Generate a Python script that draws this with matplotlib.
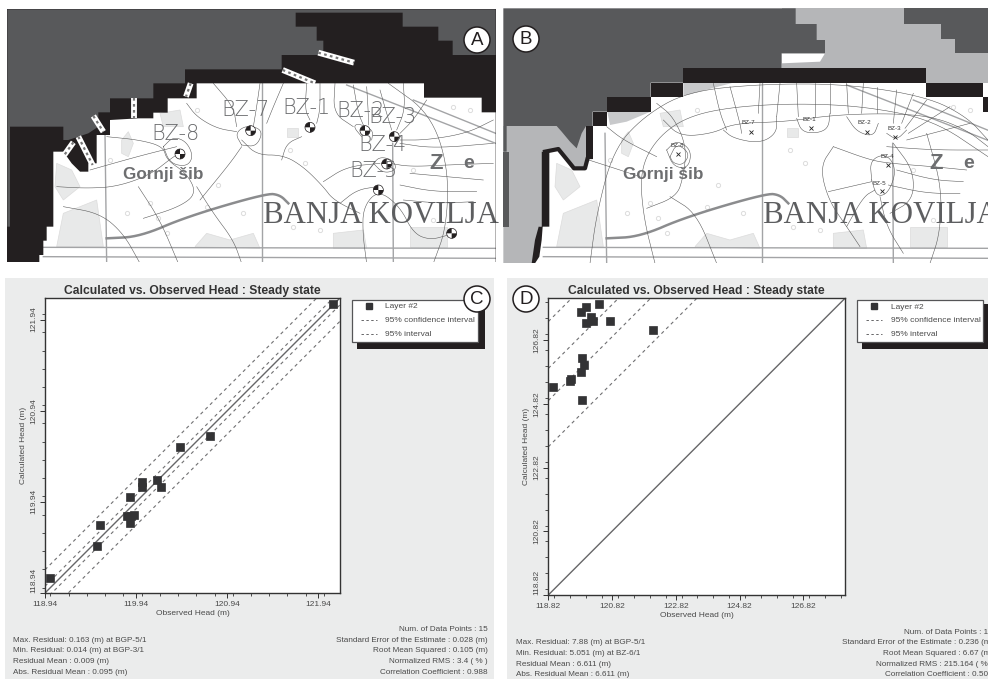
import numpy as np
import matplotlib
matplotlib.use('Agg')
import matplotlib.pyplot as plt
from matplotlib.patches import Rectangle, Polygon, Circle, Wedge
from matplotlib.ticker import MultipleLocator

plt.rcParams['font.family'] = ['Liberation Sans', 'DejaVu Sans']

W, H = 988, 679
DARK = '#58595b'
BLACK = '#231f20'
PANEL = '#ebecec'
TXT = '#4a4a4a'
MARK = '#333335'

# ---- panel C data
obs_c = [118.995, 119.507, 119.547, 119.843, 119.869, 119.92, 119.876, 120.004,
         120.004, 120.165, 120.212, 120.421, 120.746, 122.095, 119.88]
calc_c = [119.10, 119.456, 119.69, 119.788, 119.708, 119.796, 119.989, 120.106,
          120.158, 120.176, 120.103, 120.545, 120.662, 122.114, 119.79]
offsets_c = [0.255, 0.075, -0.075, -0.255]
start_c, end_c = 118.94, 122.176
stats_left_c = ['Max. Residual: 0.163 (m) at BGP-5/1', 'Min. Residual: 0.014 (m) at BGP-3/1',
                'Residual Mean : 0.009 (m)', 'Abs. Residual Mean : 0.095 (m)']
stats_right_c = ['Num. of Data Points : 15', 'Standard Error of the Estimate : 0.028 (m)',
                 'Root Mean Squared : 0.105 (m)', 'Normalized RMS : 3.4 ( % )',
                 'Correlation Coefficient : 0.988']

# ---- panel D data
obs_d = [118.977, 119.51, 119.542, 119.845, 119.929, 119.876, 119.876, 119.845,
         120.002, 120.4, 120.169, 120.222, 120.002, 120.745, 122.094]
calc_d = [125.337, 125.536, 125.598, 125.818, 126.048, 126.257, 124.95, 127.701,
          127.858, 127.962, 127.544, 127.418, 127.366, 127.429, 127.136]
offsets_d = [8.58, 7.11, 6.10, 4.65]
start_d, end_d = 118.82, 128.13
stats_left_d = ['Max. Residual: 7.88 (m) at BGP-5/1', 'Min. Residual: 5.051 (m) at BZ-6/1',
                'Residual Mean : 6.611 (m)', 'Abs. Residual Mean : 6.611 (m)']
stats_right_d = ['Num. of Data Points : 15', 'Standard Error of the Estimate : 0.236 (m)',
                 'Root Mean Squared : 6.67 (m)', 'Normalized RMS : 215.164 ( % )',
                 'Correlation Coefficient : 0.505']

# ---- map shapes, in 3x pixels of each map's own origin
a_black = [(0, 800), (0, 0), (1500, 0), (1500, 800), (1487, 800), (1487, 337), (1445, 337), (1445, 293),
           (1272, 293), (1272, 250), (590, 250), (590, 295), (503, 295), (503, 338), (460, 338), (460, 355),
           (415, 355), (330, 360), (330, 405), (290, 405), (290, 490), (265, 490), (265, 515), (240, 515),
           (215, 490), (190, 455), (160, 455), (160, 680), (140, 680), (140, 722), (130, 722), (130, 765),
           (118, 765), (118, 800)]
a_dark = [(22, 28), (22, 680), (30, 680), (30, 380), (190, 380), (190, 420), (205, 420), (265, 400), (295, 380),
          (295, 337), (330, 337), (330, 295), (460, 295), (460, 250), (555, 250), (555, 208), (845, 208),
          (845, 165), (970, 165), (970, 122), (950, 122), (950, 80), (887, 80), (887, 38), (1208, 38), (1208, 80),
          (1315, 80), (1315, 122), (1358, 122), (1358, 165), (1487, 165), (1487, 28)]
a_tags = [((955, 158), (1062, 188)), ((848, 210), (945, 250)), ((572, 250), (558, 290)), ((402, 295), (402, 355)),
          ((280, 348), (310, 395)), ((235, 410), (278, 495)), ((220, 427), (193, 465))]

b_light = [(10, 378), (278, 378), (278, 478), (258, 478), (255, 505), (222, 505), (175, 447), (135, 455), (125, 455),
           (125, 680), (118, 680), (108, 770), (95, 790), (10, 790)]
b_light_top = [(845, 25), (1464, 25), (1464, 248), (1278, 248), (1278, 205), (845, 205)]
b_light_strip = [(550, 248), (700, 248), (560, 285), (550, 285)]
b_light_step = [(322, 335), (452, 335), (380, 365), (330, 375)]
b_white_spot = [(845, 160), (975, 160), (960, 185), (845, 190)]
b_dark = [(10, 25), (887, 25), (887, 72), (950, 72), (950, 120), (975, 120), (975, 160), (845, 160), (845, 205),
          (550, 205), (550, 248), (452, 248), (452, 292), (322, 292), (322, 335), (278, 335), (278, 378), (258, 378),
          (245, 400), (230, 445), (210, 425), (185, 395), (170, 378), (20, 378), (20, 455), (10, 455)]
b_dark_right = [(1213, 25), (1464, 25), (1464, 160), (1365, 160), (1365, 118), (1322, 118), (1322, 72), (1213, 72)]
b_dark_left = [(10, 455), (28, 455), (28, 680), (10, 680)]
b_band = [(550, 205), (1278, 205), (1278, 248), (1450, 248), (1450, 290), (1464, 290), (1464, 335), (1450, 335),
          (1450, 290), (1278, 290), (1278, 248), (550, 248), (550, 290), (452, 290), (452, 335), (322, 335),
          (322, 378), (278, 378), (278, 478), (258, 478), (258, 378), (278, 378), (278, 335), (322, 335),
          (322, 292), (452, 292), (452, 248), (550, 248)]
b_band_left = [(125, 455), (148, 455), (148, 680), (128, 680), (125, 720), (118, 770), (105, 790), (95, 790),
               (105, 720), (116, 680), (125, 680)]
b_wiggle = [(135, 455), (175, 447), (210, 490), (222, 505), (255, 505), (262, 478)]

roads = [[(787, 250), (787, 790)], [(315, 400), (320, 790)], [(1178, 430), (1180, 790)],
         [(130, 742), (1487, 745)], [(130, 770), (1487, 775)], [(1040, 255), (1487, 430)],
         [(1240, 300), (1487, 400)]]
main_road = [(320, 715), (420, 710), (560, 650), (800, 580), (840, 585), (865, 610)]
blobs = [[(365, 420), (385, 395), (400, 430), (385, 470), (365, 460)], [(190, 640), (290, 600), (310, 740), (170, 740)],
         [(585, 740), (620, 700), (690, 720), (760, 700), (780, 745)], [(480, 340), (540, 330), (550, 380), (490, 380)],
         [(860, 385), (895, 385), (895, 410), (860, 410)], [(1000, 700), (1090, 690), (1100, 745), (1000, 745)],
         [(1230, 680), (1340, 680), (1340, 740), (1230, 740)], [(170, 490), (215, 510), (240, 560), (190, 600), (165, 560)]]
seeds = [(1240, 510), (655, 555), (590, 330), (500, 700), (960, 690), (1300, 660), (450, 610), (380, 640), (330, 480),
         (620, 620), (870, 450), (915, 490), (475, 655), (730, 640), (880, 680), (1410, 330), (1360, 320)]

a_contours = [
    [(170, 560), (260, 565), (350, 560), (450, 525), (520, 470), (540, 460)],
    [(270, 510), (340, 490), (430, 465), (530, 440)],
    [(320, 410), (420, 420), (490, 440), (500, 480), (560, 520), (590, 580), (540, 620), (430, 655)],
    [(490, 440), (520, 410), (560, 425), (580, 470), (560, 500), (510, 490), (490, 440)],
    [(415, 560), (480, 660), (535, 790)], [(190, 620), (300, 640), (370, 700), (420, 790)],
    [(725, 420), (770, 465), (850, 465), (910, 500), (970, 560), (1000, 600), (1080, 640)],
    [(600, 600), (690, 490), (725, 440)],
    [(725, 435), (705, 400), (740, 375), (790, 390), (770, 440), (725, 435)],
    [(590, 560), (640, 640), (700, 720), (725, 790)],
    [(560, 310), (590, 350), (650, 385), (710, 395)],
    [(845, 480), (860, 430), (905, 410)], [(640, 250), (700, 320), (710, 380)],
    [(780, 250), (770, 320), (760, 380)], [(850, 250), (820, 320), (800, 370)],
    [(920, 250), (915, 330), (930, 360)], [(960, 250), (960, 330), (950, 370)],
    [(1005, 250), (1000, 340), (1060, 380)], [(1060, 255), (1075, 340), (1090, 375)],
    [(1100, 260), (1105, 340), (1105, 375)], [(1140, 270), (1160, 340), (1175, 390)],
    [(1210, 250), (1215, 330), (1190, 390)], [(1280, 300), (1240, 360), (1200, 400)],
    [(1100, 790), (1088, 700), (1090, 620), (1135, 570), (1200, 620), (1240, 700), (1290, 720), (1345, 705)],
    [(970, 545), (1040, 500), (1140, 490)], [(1020, 610), (1070, 570), (1130, 560)],
    [(1170, 490), (1230, 500), (1340, 495), (1480, 490)], [(1200, 420), (1280, 420), (1400, 400), (1480, 360)],
    [(1200, 430), (1300, 445), (1480, 430)], [(1230, 520), (1340, 530), (1450, 540)],
    [(1200, 555), (1300, 575), (1430, 575)], [(1210, 600), (1320, 610), (1420, 605)],
    [(1165, 250), (1290, 340), (1345, 500), (1340, 680), (1300, 790)],
    [(1120, 490), (1140, 470), (1180, 480), (1190, 510), (1150, 520), (1120, 490)],
    [(1085, 410), (1060, 380), (1075, 370), (1120, 390), (1115, 420)],
]
b_contours = [
    [(270, 790), (290, 640), (340, 450), (430, 350), (560, 275), (780, 252), (1040, 252), (1280, 290), (1400, 350), (1464, 420)],
    [(465, 790), (430, 650), (420, 510), (470, 415), (560, 350), (700, 320), (900, 310), (1100, 320), (1300, 360), (1464, 470)],
    [(260, 478), (360, 510), (420, 530)], [(440, 625), (530, 590), (550, 530), (560, 440), (520, 350), (470, 310)],
    [(490, 360), (540, 410), (640, 400), (700, 370), (860, 365), (1000, 345), (1170, 340), (1300, 350), (1400, 390), (1464, 440)],
    [(510, 470), (530, 430), (570, 460), (550, 495), (520, 490), (510, 470)],
    [(500, 450), (530, 420), (575, 450), (565, 505), (520, 500), (500, 450)],
    [(670, 390), (700, 415), (780, 430), (830, 400), (830, 350)], [(890, 355), (905, 395), (950, 400), (985, 385), (990, 340)],
    [(1040, 350), (1070, 395), (1120, 410), (1135, 370)], [(1160, 400), (1190, 420), (1220, 390)],
    [(725, 400), (720, 370), (690, 260)], [(640, 250), (660, 340), (680, 390)], [(780, 250), (775, 340)],
    [(840, 250), (830, 350)], [(890, 250), (895, 350)], [(945, 250), (945, 350)], [(990, 250), (990, 340)],
    [(1040, 250), (1045, 340)], [(1090, 250), (1085, 340)], [(1130, 260), (1130, 340)], [(1190, 270), (1180, 370)],
    [(1240, 280), (1205, 370)], [(1280, 300), (1215, 385)], [(1350, 320), (1225, 400)], [(1410, 370), (1220, 420)],
    [(1000, 440), (1110, 480), (1170, 490), (1300, 500), (1400, 510)], [(1160, 440), (1300, 450), (1464, 450)],
    [(1190, 510), (1300, 540), (1390, 545)], [(1165, 555), (1280, 580), (1380, 580)], [(985, 575), (1050, 560), (1115, 545)],
    [(1040, 680), (1090, 590), (1125, 570)], [(1000, 440), (960, 500), (985, 600), (1040, 680), (1080, 740)],
    [(1115, 540), (1110, 480), (1160, 460), (1190, 510), (1165, 580), (1130, 590), (1115, 540)],
    [(1180, 430), (1240, 510), (1240, 600), (1170, 640)], [(1280, 400), (1325, 560), (1320, 700), (1290, 790)],
    [(1140, 590), (1160, 680), (1210, 760)], [(320, 380), (370, 420), (470, 470)], [(510, 590), (590, 640), (650, 790)],
]
a_wells = [(540, 462), (752, 392), (930, 382), (1095, 392), (1183, 410), (1160, 492), (1135, 570), (1355, 700)]
a_labels = [('BZ-8', 455, 402), ('BZ-7', 665, 330), ('BZ-1', 848, 325), ('BZ-2', 1010, 332), ('BZ-3', 1105, 352),
            ('BZ-4', 1075, 435), ('BZ-5', 1048, 512)]
b_wells = [(533, 462), (752, 396), (933, 384), (1100, 396), (1186, 410), (1165, 494), (1145, 572)]
b_labels = [('BZ-8', 531, 437), ('BZ-7', 746, 367), ('BZ-1', 928, 358), ('BZ-2', 1094, 367), ('BZ-3', 1184, 385),
            ('BZ-4', 1162, 470), ('BZ-5', 1137, 550)]


def chaikin(pts, n=3):
    p = np.array(pts, dtype=float)
    for _ in range(n):
        q = p[:-1] * 0.75 + p[1:] * 0.25
        r = p[:-1] * 0.25 + p[1:] * 0.75
        mid = np.empty((len(q) * 2, 2))
        mid[0::2], mid[1::2] = q, r
        p = np.vstack([p[0], mid, p[-1]])
    return p


def z(pts, ox):
    return [(ox + x / 3, y / 3) for x, y in pts]


def base_map(ax, ox, rect, contours):
    # rect = x0, y0, x1, y1 of the map, 3x pixels
    x0, y0, x1, y1 = rect
    box = Rectangle((ox + x0 / 3, y0 / 3), (x1 - x0) / 3, (y1 - y0) / 3, fc='white', ec='none', zorder=1)
    ax.add_patch(box)
    clip = Rectangle((ox + x0 / 3, y0 / 3), (x1 - x0) / 3, (y1 - y0) / 3, transform=ax.transData)
    items = []
    for b in blobs:
        items.append(ax.add_patch(Polygon(z(b, ox), fc='#e8e9e9', ec='#dcdcdc', lw=0.5, zorder=2)))
    sx, sy = zip(*z(seeds, ox))
    items += ax.plot(sx, sy, 'o', ms=3, mfc='none', mec='#dcdcdc', mew=0.7, zorder=2)
    for r in roads:
        px_, py_ = zip(*z(r, ox))
        items += ax.plot(px_, py_, color='#a3a4a6', lw=1.0, zorder=2)
    m = chaikin(z(main_road, ox))
    items += ax.plot(m[:, 0], m[:, 1], color='#8b8c8e', lw=1.8, zorder=2)
    for c in contours:
        s = chaikin(z(c, ox))
        items += ax.plot(s[:, 0], s[:, 1], color='#555555', lw=0.38, zorder=3)
    items.append(ax.text(ox + 788 / 3, 670 / 3, 'BANJA KOVILJA', family='Liberation Serif', fontsize=22.2,
                         color='#5d5e60', va='baseline', zorder=3))
    items.append(ax.text(ox + 368 / 3, 537 / 3, 'Gornji šib', weight='bold', fontsize=12.3,
                         color='#6d6e70', zorder=3))
    items.append(ax.text(ox + 1288 / 3, 508 / 3, 'Z', weight='bold', fontsize=16, color='#6d6e70', zorder=3))
    items.append(ax.text(ox + 1390 / 3, 505 / 3, 'e', weight='bold', fontsize=14, color='#6d6e70', zorder=3))
    for it in items:
        it.set_clip_path(clip)
    return clip


def scatter_panel(rect, obs, calc, offsets, start, end, minor, tick_labels, title):
    l, t, r, b = rect
    ax = fig.add_axes([l / W, 1 - b / H, (r - l) / W, (b - t) / H], zorder=2)
    ax.set_xlim(start, end)
    ax.set_ylim(start, end)
    ax.plot([start, end], [start, end], color='#666668', lw=1.0, zorder=2)
    for off in offsets:
        ax.plot([start, end], [start + off, end + off], color='#707072', lw=0.8, ls=(0, (3, 3)), zorder=2)
    ax.plot(obs, calc, 's', color=MARK, ms=5.9, mec=MARK, mew=0.5, zorder=4, clip_on=False)
    ticks = [float(v) for v in tick_labels]
    ax.set_xticks(ticks)
    ax.set_yticks(ticks)
    ax.set_xticklabels(tick_labels, fontsize=6.0, color=TXT)
    ax.set_yticklabels(tick_labels, fontsize=6.0, color=TXT, rotation=90, va='center')
    ax.get_yticklabels()[0].set_va('bottom')
    ax.xaxis.set_minor_locator(MultipleLocator(minor))
    ax.yaxis.set_minor_locator(MultipleLocator(minor))
    ax.tick_params(which='major', length=3.5, width=0.7, color='#333333', pad=2)
    ax.tick_params(which='minor', length=2, width=0.6, color='#333333')
    ax.set_xlabel('Observed Head (m)', fontsize=6.0, color=TXT, labelpad=2)
    ax.set_ylabel('Calculated Head (m)', fontsize=6.0, color=TXT, labelpad=1)
    ax.yaxis.set_label_coords(-0.061, 0.5)
    for s in ax.spines.values():
        s.set_linewidth(1.0)
        s.set_color('#333333')
    ax.set_title(title, fontsize=8.75, weight='bold', color='#333333', pad=3)
    return ax


def legend_box(ax, x0, y0, x1, y1, shadow):
    # x0.. in figure pixels; dark offset shadow drawn on the back layer
    bk.add_patch(Rectangle((x0 + 5, y0 + 4), x1 - x0 + shadow, y1 - y0 + 3, fc=BLACK, ec='none', zorder=4))
    bk.add_patch(Rectangle((x0, y0), x1 - x0, y1 - y0, fc='white', ec='#555557', lw=0.9, zorder=5))
    top.plot([x0 + 17], [y0 + 6], 's', color=MARK, ms=4.6)
    for yy in (y0 + 20, y0 + 34):
        top.plot([x0 + 9, x0 + 25], [yy, yy], color='#666668', lw=0.7, ls=(0, (2.5, 2.5)))
    for yy, s in zip((y0 + 7.5, y0 + 21, y0 + 35), ('Layer #2', '95% confidence interval', '95% interval')):
        top.text(x0 + 33.5, yy, s, fontsize=6.0, color=TXT, va='center')


def stats(left_x, right_x, ys_left, ys_right, left, right):
    for y, s in zip(ys_left, left):
        top.text(left_x, y, s, fontsize=5.85, color=TXT, va='center')
    for y, s in zip(ys_right, right):
        top.text(right_x, y, s, fontsize=5.85, color=TXT, va='center', ha='right')


def badge(x, y, s):
    top.add_patch(Circle((x, y), 13, fc='white', ec=BLACK, lw=1.1, zorder=8))
    top.text(x, y + 0.5, s, fontsize=13.5, color=BLACK, ha='center', va='center', zorder=9)


fig = plt.figure(figsize=(W / 100, H / 100), dpi=100, facecolor='white')

# back layer in image pixels, y down
bk = fig.add_axes([0, 0, 1, 1], zorder=0)
bk.set_xlim(0, W)
bk.set_ylim(H, 0)
bk.axis('off')
top = fig.add_axes([0, 0, 1, 1], zorder=5)
top.set_xlim(0, W)
top.set_ylim(H, 0)
top.axis('off')
top.patch.set_alpha(0)

bk.add_patch(Rectangle((5, 278), 489, 401, fc=PANEL, ec='none'))
bk.add_patch(Rectangle((507, 278), 481, 401, fc=PANEL, ec='none'))

# map A
rect_a = (22, 28, 1487, 787)
clip_a = base_map(bk, 0, rect_a, a_contours)
bk.add_patch(Polygon(z(a_black, 0), fc=BLACK, ec='none', zorder=5)).set_clip_path(clip_a)
bk.add_patch(Polygon(z(a_dark, 0), fc=DARK, ec='none', zorder=6)).set_clip_path(clip_a)
for p, q in a_tags:
    (x1, y1), (x2, y2) = z([p, q], 0)
    bk.plot([x1, x2], [y1, y2], color='white', lw=4.2, solid_capstyle='butt', zorder=7)
    bk.plot([x1, x2], [y1, y2], color='#777777', lw=1.6, ls=(0, (1.2, 1.5)), zorder=8)
for x, y in z(a_wells, 0):
    bk.add_patch(Circle((x, y), 5, fc='white', ec=BLACK, lw=0.5, zorder=8))
    bk.add_patch(Wedge((x, y), 5, 0, 90, fc=BLACK, ec='none', zorder=9))
    bk.add_patch(Wedge((x, y), 5, 180, 270, fc=BLACK, ec='none', zorder=9))
for s, x, y in a_labels:
    bk.text(x / 3, y / 3, s, fontsize=15, color='#6b6c6e', va='center', zorder=9,
            family='DejaVu Sans', weight='ultralight')

# map B
rect_b = (10, 25, 1464, 790)
clip_b = base_map(bk, 500, rect_b, b_contours)
for shape, col, zo in [(b_light, '#b5b6b8', 2.5), (b_light_top, '#b5b6b8', 2.5), (b_light_strip, '#c8c9cb', 2.5),
                       (b_light_step, '#c8c9cb', 2.5), (b_white_spot, 'white', 2.6),
                       (b_dark, DARK, 6), (b_dark_right, DARK, 6), (b_dark_left, DARK, 6),
                       (b_band, BLACK, 7), (b_band_left, BLACK, 7)]:
    bk.add_patch(Polygon(z(shape, 500), fc=col, ec='none', zorder=zo)).set_clip_path(clip_b)
wig = np.array(z(b_wiggle, 500))
bk.plot(wig[:, 0], wig[:, 1], color=BLACK, lw=3, zorder=7)
wx, wy = zip(*z(b_wells, 500))
bk.plot(wx, wy, 'x', color='#222222', ms=3.5, mew=0.6, zorder=8)
for s, x, y in b_labels:
    bk.text(500 + x / 3, y / 3, s, fontsize=4.5, color='#333333', ha='center', va='center', zorder=9)

# scatter panels
ax_c = scatter_panel((45, 298, 340, 593), obs_c, calc_c, offsets_c, start_c, end_c, 0.2,
                     ['118.94', '119.94', '120.94', '121.94'], 'Calculated vs. Observed Head : Steady state')
ax_d = scatter_panel((548.3, 298.3, 845, 595), obs_d, calc_d, offsets_d, start_d, end_d, 0.5,
                     ['118.82', '120.82', '122.82', '124.82', '126.82'], 'Calculated vs. Observed Head : Steady state')

legend_box(ax_c, 351.5, 299.5, 478, 341.5, 2)
legend_box(ax_d, 857, 300, 983, 342, 2)

stats(13, 488, [640.7, 651, 661.7, 672], [629.7, 640.7, 651, 661.7, 672], stats_left_c, stats_right_c)
stats(515.7, 993, [642.7, 653.3, 664, 674.7], [632, 642.7, 653.3, 664, 674.7], stats_left_d, stats_right_d)

badge(477, 40, 'A')
badge(526, 39, 'B')
badge(477, 299, 'C')
badge(526, 299, 'D')

fig.savefig('out.png', dpi=100)
